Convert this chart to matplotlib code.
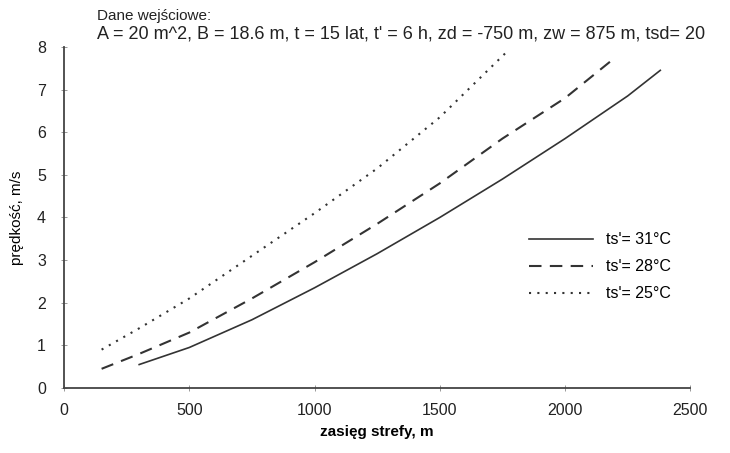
import matplotlib.pyplot as plt

plt.rcParams['font.family'] = ['Liberation Sans', 'DejaVu Sans']

# Dane
x_31 = [300, 500, 750, 1000, 1250, 1500, 1750, 2000, 2250, 2380]
v_31 = [0.55, 0.95, 1.6, 2.35, 3.15, 4.0, 4.9, 5.85, 6.85, 7.45]

x_28 = [150, 300, 500, 750, 1000, 1250, 1500, 1750, 2000, 2200]
v_28 = [0.45, 0.8, 1.3, 2.1, 2.95, 3.85, 4.8, 5.85, 6.8, 7.75]

x_25 = [150, 300, 500, 750, 1000, 1250, 1500, 1770]
v_25 = [0.9, 1.4, 2.1, 3.1, 4.1, 5.15, 6.35, 7.9]

labels = ["ts'= 31°C", "ts'= 28°C", "ts'= 25°C"]
xticks = [0, 500, 1000, 1500, 2000, 2500]
yticks = [0, 1, 2, 3, 4, 5, 6, 7, 8]

fig = plt.figure(figsize=(7.3, 4.53), dpi=100)
ax = fig.add_axes([0.0877, 0.1435, 0.858, 0.753])

c = '#333333'
ax.plot(x_31, v_31, color=c, lw=1.2, ls='-', label=labels[0])
ax.plot(x_28, v_28, color=c, lw=1.5, ls=(0, (6, 4)), label=labels[1])
ax.plot(x_25, v_25, color=c, lw=1.5, ls=(0, (1, 3)), label=labels[2])

ax.set_xlim(0, 2500)
ax.set_ylim(0, 8)
ax.set_xticks(xticks)
ax.set_yticks(yticks)
for s in ['top', 'right']:
    ax.spines[s].set_visible(False)
for s in ['left', 'bottom']:
    ax.spines[s].set_color('#444444')
    ax.spines[s].set_linewidth(1.3)
ax.tick_params(direction='inout', length=4, width=0.6, colors='#888888',
               labelcolor='#222222', labelsize=11.5)
ax.tick_params(axis='x', pad=9)
ax.tick_params(axis='y', pad=11)

ax.set_xlabel('zasięg strefy, m', fontsize=11, fontweight='bold', labelpad=5)
ax.set_ylabel('prędkość, m/s', fontsize=11, labelpad=9)

fig.text(0.133, 0.965, 'Dane wejściowe:', fontsize=11, va='center', color='#222222')
fig.text(0.133, 0.925, "A = 20 m^2, B = 18.6 m, t = 15 lat, t' = 6 h, zd = -750 m, zw = 875 m, tsd= 20",
         fontsize=13, va='center', color='#222222')

ax.legend(loc='center left', bbox_to_anchor=(0.72, 0.355), frameon=False,
          handlelength=4.0, labelspacing=0.75, fontsize=11.5, handletextpad=0.8)

fig.savefig('out.png', dpi=100)
